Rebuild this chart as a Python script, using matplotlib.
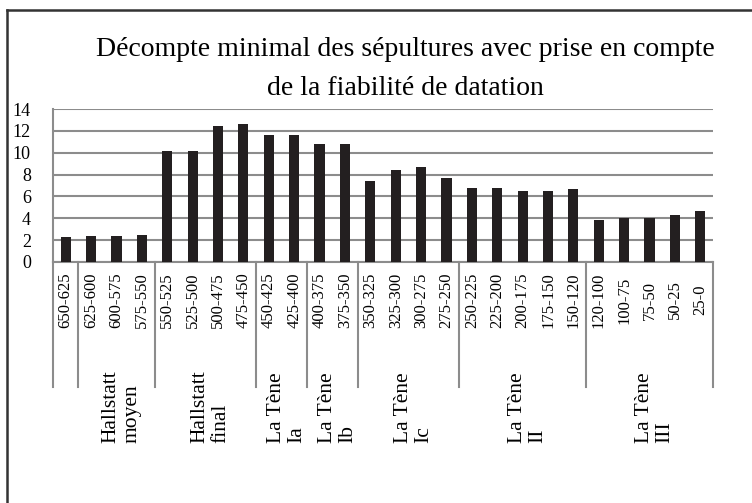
import matplotlib.pyplot as plt
from matplotlib.lines import Line2D
import matplotlib.transforms as mtransforms

plt.rcParams['font.family'] = ['Liberation Serif', 'DejaVu Serif']

# tranches chronologiques (av. J.-C.)
periodes = ['650-625', '625-600', '600-575', '575-550', '550-525', '525-500',
            '500-475', '475-450', '450-425', '425-400', '400-375', '375-350',
            '350-325', '325-300', '300-275', '275-250', '250-225', '225-200',
            '200-175', '175-150', '150-120', '120-100', '100-75', '75-50',
            '50-25', '25-0']
sepultures = [2.3, 2.4, 2.4, 2.5, 10.2, 10.2, 12.4, 12.6, 11.6, 11.6, 10.8, 10.8,
              7.4, 8.4, 8.7, 7.7, 6.8, 6.8, 6.5, 6.5, 6.7, 3.8, 4.0, 4.0, 4.3, 4.7]

# phases : libellé et nombre de tranches
phases = ['', 'Hallstatt\nmoyen', 'Hallstatt\nfinal', 'La Tène\nIa', 'La Tène\nIb',
          'La Tène\nIc', 'La Tène\nII', 'La Tène\nIII']
nb_tranches = [1, 3, 4, 2, 2, 4, 5, 5]

grey = '#8c8c8c'

fig = plt.figure(figsize=(7.52, 5.03), dpi=100)
ax = fig.add_axes([53 / 752, 1 - 262 / 503, 660 / 752, 153 / 503])

x = list(range(len(periodes)))
ax.bar(x, sepultures, width=0.4, color='#231f20', zorder=3)
ax.set_xlim(-0.5, len(periodes) - 0.5)
ax.set_ylim(0, 14)
ax.set_yticks(range(0, 15, 2))
ax.yaxis.grid(True, color=grey, linewidth=1.5, zorder=0)
ax.tick_params(axis='y', length=0, pad=16, labelsize=13)
ax.set_xticks([])
for s in ['top', 'right']:
    ax.spines[s].set_visible(False)
for s in ['left', 'bottom']:
    ax.spines[s].set_color(grey)
    ax.spines[s].set_linewidth(1.5)

trans = mtransforms.blended_transform_factory(ax.transData, ax.transAxes)
px = 1 / 153  # un pixel en fraction d'axe (vertical)

# libellés des tranches
for i, lab in enumerate(periodes):
    ax.text(i, -38 * px, lab, transform=trans, rotation=90, ha='center',
            va='center', fontsize=12)

# séparateurs et libellés des phases
debut = 0
edges = [0]
for lab, n in zip(phases, nb_tranches):
    fin = debut + n
    edges.append(fin)
    if lab:
        ax.text((debut + fin - 1) / 2 + 0.2, -181 * px, lab, transform=trans,
                rotation=90, ha='center', va='bottom', multialignment='left',
                fontsize=15.5, linespacing=1.1)
    debut = fin
for e in edges:
    ax.add_line(Line2D([e - 0.5, e - 0.5], [0, -125 * px], transform=trans,
                       color=grey, linewidth=1.5, clip_on=False))

fig.text(405 / 752, 1 - 69 / 503,
         'Décompte minimal des sépultures avec prise en compte\nde la fiabilité de datation',
         ha='center', va='center', fontsize=20, linespacing=1.7)

# cadre
fig.add_artist(Line2D([7 / 752, 7 / 752], [0, 1 - 10 / 503], color='#333333',
                      linewidth=1.8, transform=fig.transFigure))
fig.add_artist(Line2D([7 / 752, 1], [1 - 10 / 503, 1 - 10 / 503], color='#333333',
                      linewidth=1.8, transform=fig.transFigure))

fig.savefig('out.png', dpi=100)
